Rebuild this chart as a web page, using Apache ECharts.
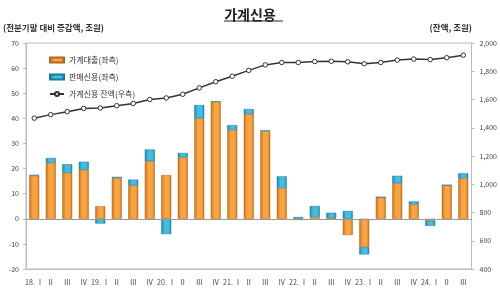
<!DOCTYPE html>
<html>
<head>
<meta charset="utf-8">
<script src="https://cdn.jsdelivr.net/npm/echarts@6/dist/echarts.min.js"></script>
<style>
  html, body { margin: 0; padding: 0; background: #fff; }
  #chart { width: 500px; height: 292px; }
</style>
</head>
<body>
<div id="chart"></div>
<script>
var chartDom = document.getElementById('chart');
var myChart = echarts.init(chartDom);
var option;

// 분기
var quarters = ['18. Ⅰ','Ⅱ','Ⅲ','Ⅳ','19. Ⅰ','Ⅱ','Ⅲ','Ⅳ','20. Ⅰ','Ⅱ','Ⅲ','Ⅳ',
                '21. Ⅰ','Ⅱ','Ⅲ','Ⅳ','22. Ⅰ','Ⅱ','Ⅲ','Ⅳ','23. Ⅰ','Ⅱ','Ⅲ','Ⅳ',
                '24. Ⅰ','Ⅱ','Ⅲ'];
// 가계대출 증감액 (좌측, 조원)
var loans = [17.2, 22.3, 18.3, 19.4, 5.0, 16.2, 13.3, 22.9, 17.4, 24.4, 40.0, 46.6,
             35.3, 41.7, 34.9, 12.3, -0.5, 0.7, 0.3, -6.5, -11.3, 8.6, 14.1, 5.7,
             -0.8, 13.4, 16.1];
// 판매신용 증감액 (좌측, 조원)
var sales = [0.3, 1.9, 3.4, 3.3, -1.9, 0.5, 2.3, 4.7, -6.1, 1.8, 5.3, 0.2,
             2.0, 2.0, 0.3, 4.6, 0.7, 4.4, 2.1, 3.1, -2.9, 0.0, 3.0, 1.2,
             -2.0, 0.0, 2.0];
// 가계신용 잔액 (우측, 조원)
var balance = [1468, 1493, 1514, 1537, 1540, 1556, 1572, 1600, 1611, 1637, 1682, 1726,
               1765, 1806, 1845, 1862, 1862, 1869, 1871, 1867, 1853, 1862, 1879, 1886,
               1883, 1896, 1914];

var font = '"Noto Sans CJK KR", "Noto Sans", sans-serif';

function cyl(c1, c2) {
  return new echarts.graphic.LinearGradient(0, 0, 1, 0, [
    {offset: 0, color: c2},
    {offset: 0.35, color: c1},
    {offset: 0.75, color: c1},
    {offset: 1, color: c2}
  ]);
}

option = {
  animation: false,
  textStyle: { fontFamily: font },
  title: {
    text: '가계신용',
    left: 'center',
    top: 3,
    textStyle: { fontSize: 14, fontWeight: 'bold', color: '#222' }
  },
  graphic: [
    { type: 'line', shape: { x1: 224, y1: 21, x2: 283, y2: 21 }, style: { stroke: '#222', lineWidth: 1 } },
    { type: 'text', left: 3, top: 24, style: { text: '(전분기말 대비 증감액, 조원)', font: 'bold 8.5px ' + font, fill: '#333' } },
    { type: 'text', right: 28, top: 24, style: { text: '(잔액, 조원)', font: 'bold 8.5px ' + font, fill: '#333' } }
  ],
  legend: {
    orient: 'vertical',
    left: 44,
    top: 51,
    itemGap: 9,
    itemWidth: 14,
    itemHeight: 5,
    textStyle: { fontSize: 8, color: '#333' },
    data: [
      { name: '가계대출(좌측)', icon: 'rect' },
      { name: '판매신용(좌측)', icon: 'rect' },
      { name: '가계신용 잔액(우측)' }
    ]
  },
  grid: {
    left: 26, right: 28, top: 43, bottom: 23,
    show: true, borderColor: '#bbb', borderWidth: 1
  },
  xAxis: {
    type: 'category',
    data: quarters,
    axisLine: { onZero: false, lineStyle: { color: '#bbb' } },
    axisTick: { show: false },
    axisLabel: { fontSize: 7, color: '#444', interval: 0, margin: 10 }
  },
  yAxis: [
    {
      type: 'value', min: -20, max: 70, interval: 10,
      splitLine: { show: false },
      axisLine: { show: true, lineStyle: { color: '#bbb' } },
      axisTick: { show: true, length: 3, lineStyle: { color: '#bbb' } },
      axisLabel: { fontSize: 7, color: '#444', margin: 7 }
    },
    {
      type: 'value', min: 400, max: 2000, interval: 200,
      splitLine: { show: false },
      axisLine: { show: true, lineStyle: { color: '#bbb' } },
      axisTick: { show: true, length: 3, lineStyle: { color: '#bbb' } },
      axisLabel: {
        fontSize: 7, color: '#444', margin: 8,
        formatter: function (v) { return v.toLocaleString('en-US'); }
      }
    }
  ],
  series: [
    {
      name: '가계대출(좌측)',
      type: 'bar',
      stack: 'credit',
      data: loans,
      barWidth: 10,
      itemStyle: { color: cyl('#f7a444', '#c8701c'), borderColor: '#b8651a', borderWidth: 0.5 },
      markLine: {
        silent: true, symbol: 'none', label: { show: false },
        lineStyle: { color: '#999', type: 'solid', width: 1 },
        data: [{ yAxis: 0 }]
      }
    },
    {
      name: '판매신용(좌측)',
      type: 'bar',
      stack: 'credit',
      data: sales,
      barWidth: 10,
      itemStyle: { color: cyl('#46bde0', '#1f86a8'), borderColor: '#1b7896', borderWidth: 0.5 }
    },
    {
      name: '가계신용 잔액(우측)',
      type: 'line',
      yAxisIndex: 1,
      data: balance,
      symbol: 'circle',
      symbolSize: 4.5,
      lineStyle: { color: '#333', width: 1.5 },
      itemStyle: { color: '#fff', borderColor: '#333', borderWidth: 1 }
    }
  ]
};

option && myChart.setOption(option);
</script>
</body>
</html>
